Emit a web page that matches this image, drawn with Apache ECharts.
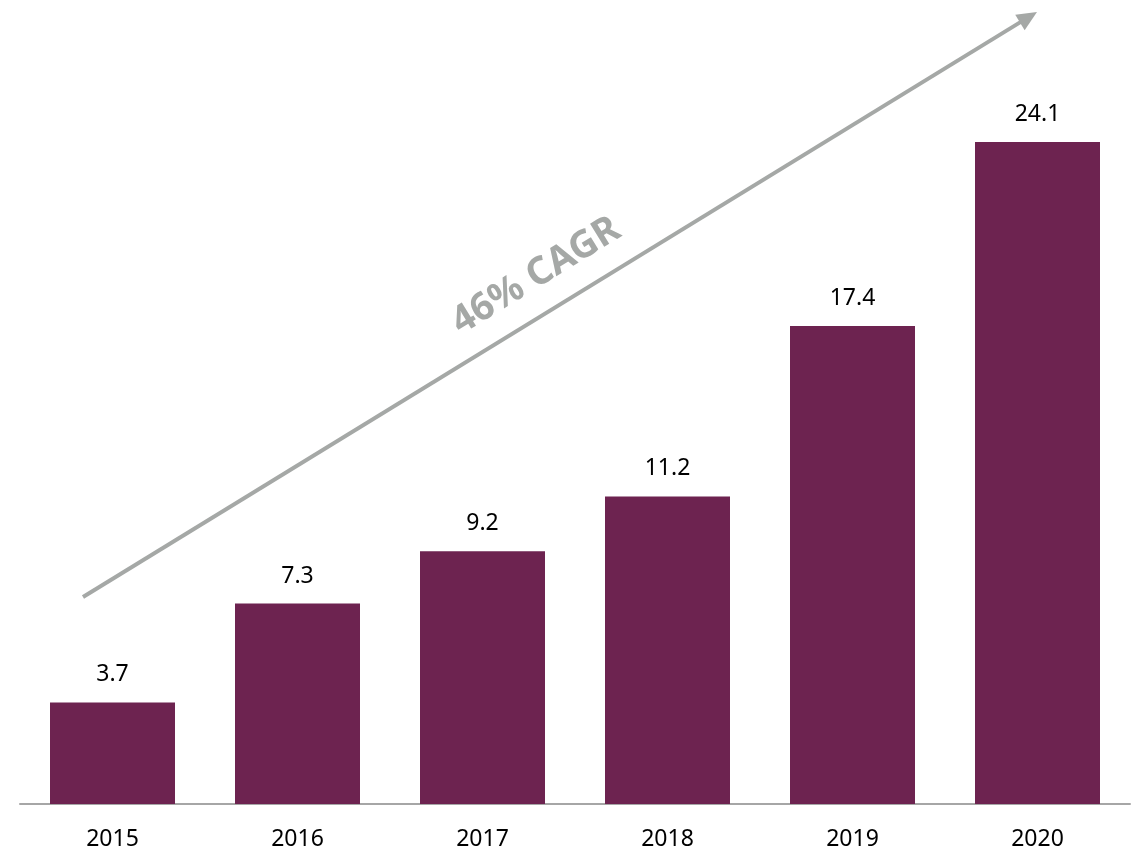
<!DOCTYPE html>
<html>
<head>
<meta charset="utf-8">
<script src="https://cdn.jsdelivr.net/npm/echarts@6/dist/echarts.min.js"></script>
<style>
  html, body { margin: 0; padding: 0; background: #ffffff; }
  #chart { width: 1133px; height: 851px; }
</style>
</head>
<body>
<div id="chart"></div>
<script>
// Yearly values
const years = ['2015', '2016', '2017', '2018', '2019', '2020'];
const values = [3.7, 7.3, 9.2, 11.2, 17.4, 24.1];
const cagrText = '46% CAGR';

const chart = echarts.init(document.getElementById('chart'));

// Growth arrow endpoints (pixels)
const arrowStart = [83, 597];
const arrowTip = [1037, 12];
const dx = arrowTip[0] - arrowStart[0];
const dy = arrowTip[1] - arrowStart[1];
const len = Math.sqrt(dx * dx + dy * dy);
const ux = dx / len, uy = dy / len;
const headLen = 20, headHalf = 9;
const base = [arrowTip[0] - ux * headLen, arrowTip[1] - uy * headLen];
const px = -uy, py = ux;
const angle = Math.atan2(-dy, dx);

chart.setOption({
  animation: false,
  grid: { left: 20, right: 3, top: 35, bottom: 45, containLabel: false },
  xAxis: {
    type: 'category',
    data: years,
    axisLine: { show: true, lineStyle: { color: '#a6a6a6', width: 2 } },
    axisTick: { show: false },
    axisLabel: { color: '#000000', fontSize: 23, fontFamily: 'Noto Sans', margin: 24 }
  },
  yAxis: {
    type: 'value',
    min: 0,
    max: 28,
    show: false,
    splitLine: { show: false }
  },
  series: [{
    type: 'bar',
    data: values,
    barWidth: 125,
    itemStyle: { color: '#6d2350' },
    label: {
      show: true,
      position: 'top',
      distance: 16,
      color: '#000000',
      fontSize: 23,
      fontFamily: 'Noto Sans',
      formatter: (p) => p.value.toFixed(1)
    }
  }],
  graphic: [
    {
      type: 'line',
      shape: { x1: arrowStart[0], y1: arrowStart[1], x2: base[0] + ux * 2, y2: base[1] + uy * 2 },
      style: { stroke: '#a5a8a6', lineWidth: 4 }
    },
    {
      type: 'polygon',
      shape: {
        points: [
          arrowTip,
          [base[0] + px * headHalf, base[1] + py * headHalf],
          [base[0] - px * headHalf, base[1] - py * headHalf]
        ]
      },
      style: { fill: '#a5a8a6' }
    },
    {
      type: 'text',
      x: 536,
      y: 276,
      rotation: angle,
      style: {
        text: cagrText,
        fill: '#a5a8a6',
        font: 'bold 38px "Noto Sans"',
        align: 'center',
        verticalAlign: 'middle'
      }
    }
  ]
});
</script>
</body>
</html>
